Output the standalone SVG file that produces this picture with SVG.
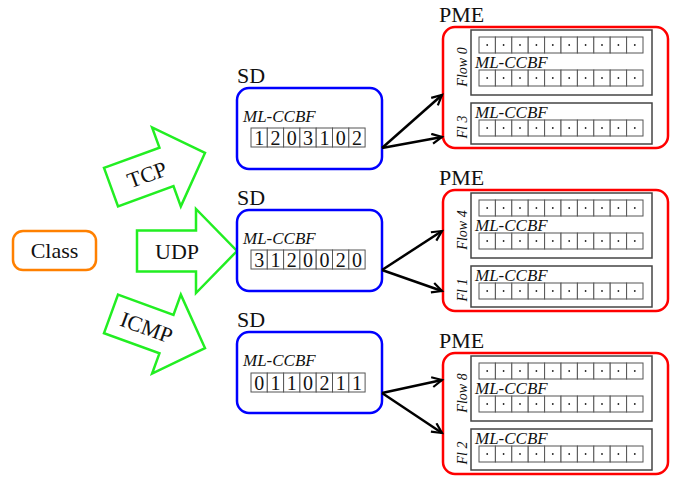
<svg xmlns="http://www.w3.org/2000/svg" xmlns:xlink="http://www.w3.org/1999/xlink" width="674" height="477" viewBox="0 0 674 477">
<style>
.t{font-family:"Liberation Serif","Times New Roman",serif;fill:#111}
.big{font-size:22px}
.it{font-style:italic;font-size:17px}
.fl{font-style:italic;font-size:14px}
.dg{font-size:20px;text-anchor:middle}
.cell{fill:#fff;stroke:#555;stroke-width:1}
.inner{fill:#fff;stroke:#444;stroke-width:1.5}
.pme{fill:#fff;stroke:#f00;stroke-width:2.5}
.sd{fill:#fff;stroke:#00f;stroke-width:2.5}
.garrow{fill:#fff;stroke:#22ee22;stroke-width:2.5;stroke-linejoin:miter}
.conn{stroke:#000;stroke-width:2.5;fill:none}
</style>
<defs>
<marker id="ah" markerUnits="userSpaceOnUse" markerWidth="14" markerHeight="14" refX="11" refY="6" orient="auto">
<path d="M1,1 L11,6 L1,11" fill="none" stroke="#000" stroke-width="2.2"/>
</marker>
<g id="row10">
<rect class="cell" x="0" y="0" width="16.4" height="16"/><rect class="cell" x="16.4" y="0" width="16.4" height="16"/><rect class="cell" x="32.8" y="0" width="16.4" height="16"/><rect class="cell" x="49.2" y="0" width="16.4" height="16"/><rect class="cell" x="65.6" y="0" width="16.4" height="16"/><rect class="cell" x="82" y="0" width="16.4" height="16"/><rect class="cell" x="98.4" y="0" width="16.4" height="16"/><rect class="cell" x="114.8" y="0" width="16.4" height="16"/><rect class="cell" x="131.2" y="0" width="16.4" height="16"/><rect class="cell" x="147.6" y="0" width="16.4" height="16"/>
<g fill="#222"><circle cx="8.2" cy="8" r="0.9"/><circle cx="24.6" cy="8" r="0.9"/><circle cx="41" cy="8" r="0.9"/><circle cx="57.4" cy="8" r="0.9"/><circle cx="73.8" cy="8" r="0.9"/><circle cx="90.2" cy="8" r="0.9"/><circle cx="106.6" cy="8" r="0.9"/><circle cx="123" cy="8" r="0.9"/><circle cx="139.4" cy="8" r="0.9"/><circle cx="155.8" cy="8" r="0.9"/></g>
</g>
<g id="row7">
<rect class="cell" x="0" y="0" width="16.3" height="19"/><rect class="cell" x="16.3" y="0" width="16.3" height="19"/><rect class="cell" x="32.6" y="0" width="16.3" height="19"/><rect class="cell" x="48.9" y="0" width="16.3" height="19"/><rect class="cell" x="65.2" y="0" width="16.3" height="19"/><rect class="cell" x="81.5" y="0" width="16.3" height="19"/><rect class="cell" x="97.8" y="0" width="16.3" height="19"/>
</g>
<path id="garrowshape" d="M-50,-20.5 L9,-20.5 L9,-42 L50,0 L9,42 L9,20.5 L-50,20.5 Z"/>
</defs>

<g id="class">
<rect x="13" y="231" width="83" height="39" rx="10" fill="#fff" stroke="#ff8000" stroke-width="2.5"/>
<text class="t big" x="54.5" y="258" text-anchor="middle">Class</text>
</g>

<g id="tcp" transform="translate(158,170) rotate(-20)">
<use href="#garrowshape" class="garrow"/>
<text class="t big" x="-12" y="8" text-anchor="middle">TCP</text>
</g>
<g id="udp" transform="translate(187,251)">
<use href="#garrowshape" class="garrow"/>
<text class="t big" x="-10" y="8" text-anchor="middle">UDP</text>
</g>
<g id="icmp" transform="translate(158,331) rotate(20)">
<use href="#garrowshape" class="garrow"/>
<text class="t big" x="-12" y="8" text-anchor="middle">ICMP</text>
</g>

<g id="sd1">
<text class="t big" x="237" y="83">SD</text>
<rect class="sd" x="237" y="88" width="145" height="81" rx="12"/>
<text class="t it" x="243" y="122">ML-CCBF</text>
<use href="#row7" x="251" y="128"/>
<g class="t dg"><text x="259.2" y="145">1</text><text x="275.5" y="145">2</text><text x="291.8" y="145">0</text><text x="308.1" y="145">3</text><text x="324.4" y="145">1</text><text x="340.7" y="145">0</text><text x="357" y="145">2</text></g>
</g>
<g id="sd2">
<text class="t big" x="237" y="205">SD</text>
<rect class="sd" x="237" y="210" width="145" height="81" rx="12"/>
<text class="t it" x="243" y="244">ML-CCBF</text>
<use href="#row7" x="251" y="250"/>
<g class="t dg"><text x="259.2" y="267">3</text><text x="275.5" y="267">1</text><text x="291.8" y="267">2</text><text x="308.1" y="267">0</text><text x="324.4" y="267">0</text><text x="340.7" y="267">2</text><text x="357" y="267">0</text></g>
</g>
<g id="sd3">
<text class="t big" x="237" y="327">SD</text>
<rect class="sd" x="237" y="332" width="145" height="81" rx="12"/>
<text class="t it" x="243" y="366">ML-CCBF</text>
<use href="#row7" x="251" y="373"/>
<g class="t dg"><text x="259.2" y="390">0</text><text x="275.5" y="390">1</text><text x="291.8" y="390">1</text><text x="308.1" y="390">0</text><text x="324.4" y="390">2</text><text x="340.7" y="390">1</text><text x="357" y="390">1</text></g>
</g>

<g id="pme1">
<text class="t big" x="439" y="22">PME</text>
<rect class="pme" x="443" y="27" width="225" height="121" rx="12"/>
<rect class="inner" x="471" y="30" width="181" height="65"/>
<use href="#row10" x="479" y="37"/>
<text class="t it" x="475" y="68">ML-CCBF</text>
<use href="#row10" x="479" y="70"/>
<text class="t fl" transform="translate(467,67) rotate(-90)" text-anchor="middle">Flow 0</text>
<rect class="inner" x="471" y="103" width="181" height="41"/>
<text class="t it" x="475" y="118">ML-CCBF</text>
<use href="#row10" x="479" y="120"/>
<text class="t fl" transform="translate(467,127) rotate(-90)" text-anchor="middle">Fl 3</text>
</g>
<g id="pme2">
<text class="t big" x="439" y="185">PME</text>
<rect class="pme" x="443" y="190" width="225" height="121" rx="12"/>
<rect class="inner" x="471" y="193" width="181" height="65"/>
<use href="#row10" x="479" y="200"/>
<text class="t it" x="475" y="231">ML-CCBF</text>
<use href="#row10" x="479" y="233"/>
<text class="t fl" transform="translate(467,230) rotate(-90)" text-anchor="middle">Flow 4</text>
<rect class="inner" x="471" y="266" width="181" height="41"/>
<text class="t it" x="475" y="281">ML-CCBF</text>
<use href="#row10" x="479" y="283"/>
<text class="t fl" transform="translate(467,290) rotate(-90)" text-anchor="middle">Fl 1</text>
</g>
<g id="pme3">
<text class="t big" x="439" y="348">PME</text>
<rect class="pme" x="443" y="353" width="225" height="121" rx="12"/>
<rect class="inner" x="471" y="356" width="181" height="65"/>
<use href="#row10" x="479" y="363"/>
<text class="t it" x="475" y="394">ML-CCBF</text>
<use href="#row10" x="479" y="396"/>
<text class="t fl" transform="translate(467,393) rotate(-90)" text-anchor="middle">Flow 8</text>
<rect class="inner" x="471" y="429" width="181" height="41"/>
<text class="t it" x="475" y="444">ML-CCBF</text>
<use href="#row10" x="479" y="446"/>
<text class="t fl" transform="translate(467,453) rotate(-90)" text-anchor="middle">Fl 2</text>
</g>

<g id="connectors">
<line class="conn" x1="382" y1="148" x2="442" y2="95" marker-end="url(#ah)"/>
<line class="conn" x1="382" y1="148" x2="442" y2="137" marker-end="url(#ah)"/>
<line class="conn" x1="382" y1="270" x2="442" y2="231" marker-end="url(#ah)"/>
<line class="conn" x1="382" y1="270" x2="442" y2="291" marker-end="url(#ah)"/>
<line class="conn" x1="382" y1="393" x2="442" y2="380" marker-end="url(#ah)"/>
<line class="conn" x1="382" y1="393" x2="442" y2="433" marker-end="url(#ah)"/>
</g>
</svg>
